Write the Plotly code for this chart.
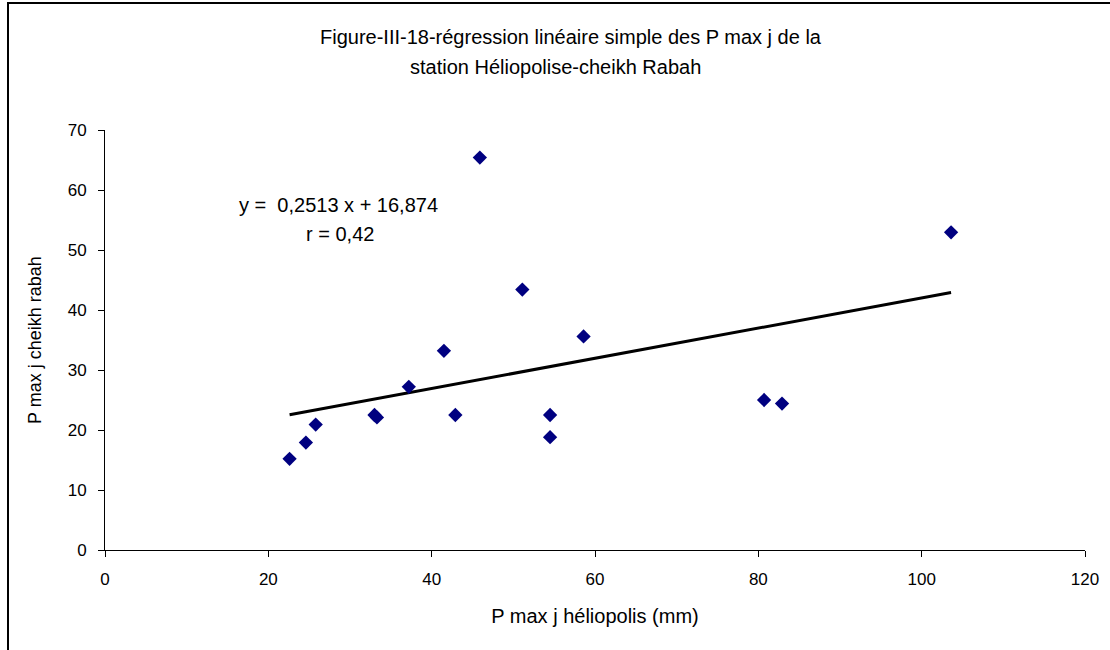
import plotly.graph_objects as go

# Daily maximum rainfall (mm) at the two stations
p_max_heliopolis = [22.6, 24.6, 25.8, 33.0, 33.3, 37.2, 41.5, 42.9, 45.9,
                    51.1, 54.5, 54.5, 58.6, 80.7, 82.9, 103.6]
p_max_cheikh_rabah = [15.2, 17.9, 20.9, 22.5, 22.1, 27.2, 33.2, 22.5, 65.4,
                      43.4, 22.5, 18.8, 35.6, 25.0, 24.4, 52.95]

# Fitted regression y = a x + b and correlation coefficient
slope = 0.2513
intercept = 16.874
r_coef = 0.42

title_lines = ["Figure-III-18-régression linéaire simple des P max j de la",
               "station Héliopolise-cheikh Rabah"]

FONT = "Liberation Sans, Arial, sans-serif"

x_fit = [min(p_max_heliopolis), max(p_max_heliopolis)]
y_fit = [slope * v + intercept for v in x_fit]

fig = go.Figure()
fig.add_trace(go.Scatter(
    x=x_fit, y=y_fit, mode="lines",
    line=dict(color="black", width=3), hoverinfo="skip", showlegend=False))
fig.add_trace(go.Scatter(
    x=p_max_heliopolis, y=p_max_cheikh_rabah, mode="markers",
    marker=dict(symbol="diamond", size=11, color="#000080"),
    showlegend=False))

W, H = 1110, 650
L, R, T, B = 105, 25, 130, 100
pw, ph = W - L - R, H - T - B


def px(xp):
    return (xp - L) / pw


def py(yp):
    return (H - B - yp) / ph


def label(text, xp, yp, size):
    return dict(text=text, x=px(xp), y=py(yp), xref="paper", yref="paper",
                xanchor="center", yanchor="middle", showarrow=False,
                font=dict(size=size, color="black", family=FONT))


annotations = [
    label(title_lines[0], 571, 37, 20),
    label(title_lines[1], 555, 67, 20),
    label(f"y =  {slope:.4f} x + {intercept:.3f}".replace(".", ","), 338, 205, 20),
    label(f"r = {r_coef:.2f}".replace(".", ","), 340, 234, 20),
]

fig.update_layout(
    width=W, height=H,
    margin=dict(l=L, r=R, t=T, b=B),
    paper_bgcolor="white", plot_bgcolor="white",
    font=dict(family=FONT, color="black", size=16),
    annotations=annotations,
    shapes=[dict(type="rect", xref="paper", yref="paper",
                 x0=px(8), x1=px(1113), y0=py(653), y1=py(3),
                 line=dict(color="black", width=2), layer="below")],
    xaxis=dict(range=[0, 120], dtick=20, tick0=0, showgrid=False,
               zeroline=False, showline=True, linecolor="black", linewidth=1,
               ticks="outside", ticklen=6, tickcolor="black",
               tickfont=dict(size=17), ticklabelstandoff=8,
               title=dict(text="P max j héliopolis (mm)", standoff=20,
                          font=dict(size=20))),
    yaxis=dict(range=[0, 70], dtick=10, tick0=0, showgrid=False,
               zeroline=False, showline=True, linecolor="black", linewidth=1,
               ticks="outside", ticklen=6, tickcolor="black",
               tickfont=dict(size=17), ticklabelstandoff=8,
               title=dict(text="P max j cheikh rabah", standoff=21,
                          font=dict(size=18))),
)

fig.write_html("out.html")
